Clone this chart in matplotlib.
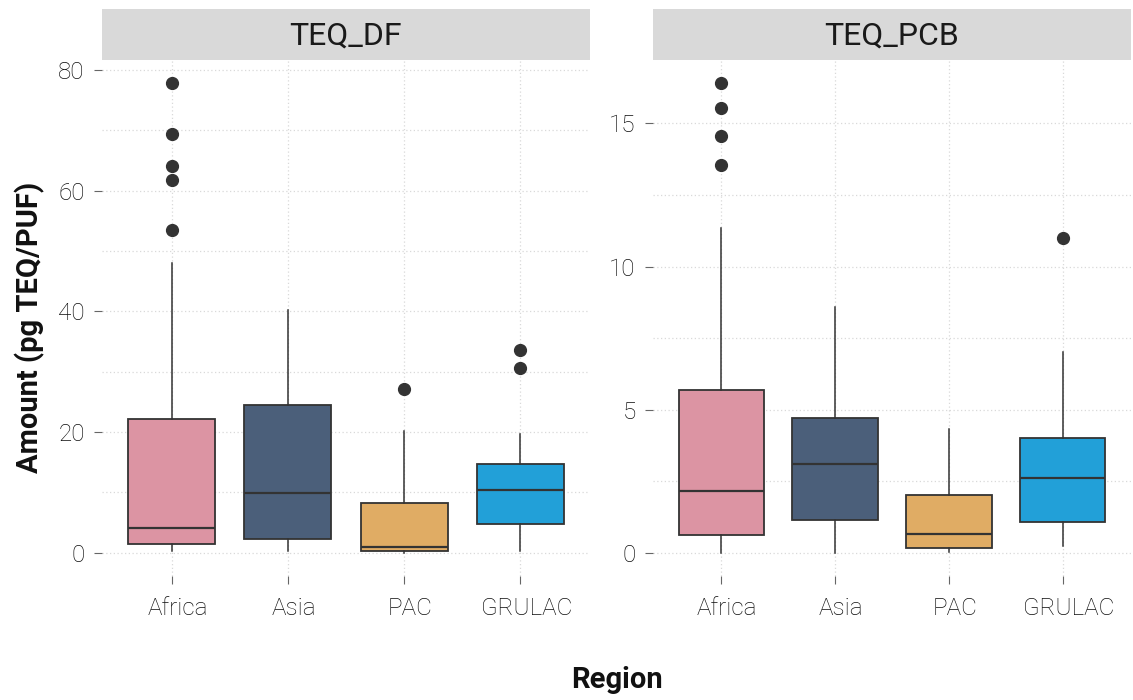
import matplotlib.pyplot as plt
import matplotlib.transforms as mtransforms
from matplotlib.ticker import MultipleLocator

plt.rcParams.update({
    "font.family": ["Roboto", "DejaVu Sans"],
    "font.size": 15,
})

regions = ["Africa", "Asia", "PAC", "GRULAC"]
colors = ["#DC94A3", "#4B5F7A", "#E0AC64", "#22A0D8"]

# TEQ_DF box stats (pg TEQ/PUF)
df_whislo = [0.3, 0.3, 0.0, 0.3]
df_q1 = [1.5, 2.3, 0.3, 4.8]
df_med = [4.1, 9.9, 1.0, 10.4]
df_q3 = [22.2, 24.5, 8.3, 14.7]
df_whishi = [48.0, 40.2, 20.2, 19.7]
df_fliers = [[77.8, 69.4, 64.1, 61.8, 53.5], [], [27.2], [33.6, 30.6]]

# TEQ_PCB box stats
pcb_whislo = [0.0, 0.0, 0.03, 0.24]
pcb_q1 = [0.63, 1.15, 0.17, 1.08]
pcb_med = [2.16, 3.11, 0.66, 2.62]
pcb_q3 = [5.69, 4.71, 2.02, 4.01]
pcb_whishi = [11.34, 8.59, 4.33, 7.02]
pcb_fliers = [[16.4, 15.53, 14.55, 13.54], [], [], [11.0]]

W, H = 1133, 700
fig = plt.figure(figsize=(W / 100, H / 100), dpi=100)

panels = [
    ("TEQ_DF", (df_whislo, df_q1, df_med, df_q3, df_whishi, df_fliers), 102, 590, 20, 10),
    ("TEQ_PCB", (pcb_whislo, pcb_q1, pcb_med, pcb_q3, pcb_whishi, pcb_fliers), 653, 1131, 5, 2.5),
]

for title, (lo, q1, med, q3, hi, fl), x0, x1, major, minor in panels:
    ax = fig.add_axes([x0 / W, (H - 576) / H, (x1 - x0) / W, 516 / H])
    stats = []
    for i, name in enumerate(regions):
        stats.append(dict(label=name, whislo=lo[i], q1=q1[i], med=med[i],
                          q3=q3[i], whishi=hi[i], fliers=fl[i]))
    pos = list(range(1, len(regions) + 1))
    bp = ax.bxp(stats, positions=pos, widths=0.75, patch_artist=True,
                showcaps=False,
                boxprops=dict(edgecolor="#333333", linewidth=1.3),
                medianprops=dict(color="#333333", linewidth=1.6),
                whiskerprops=dict(color="#333333", linewidth=1.1),
                flierprops=dict(marker="o", markerfacecolor="#333333",
                                markeredgecolor="#333333", markersize=8.5))
    for patch, c in zip(bp["boxes"], colors):
        patch.set_facecolor(c)

    allv = lo + hi + [v for f in fl for v in f]
    vmin, vmax = min(allv), max(allv)
    pad = 0.05 * (vmax - vmin)
    ax.set_ylim(vmin - pad, vmax + pad)
    ax.set_xlim(0.4, len(regions) + 0.6)

    ax.yaxis.set_major_locator(MultipleLocator(major))
    ax.yaxis.set_minor_locator(MultipleLocator(minor))
    ax.grid(True, which="both", axis="y", color="#D9D9D9", linestyle=(0, (1, 2)), lw=0.9)
    ax.grid(True, which="major", axis="x", color="#D9D9D9", linestyle=(0, (1, 2)), lw=0.9)
    ax.set_axisbelow(True)
    for s in ax.spines.values():
        s.set_visible(False)
    ax.tick_params(axis="y", which="minor", length=0)
    ax.tick_params(axis="both", which="major", length=5.5, width=0.8,
                   color="#666666", labelcolor="#0D0D0D", labelsize=17.5)
    ax.tick_params(axis="x", pad=9.5)
    ax.tick_params(axis="y", pad=7)
    for lab in ax.get_xticklabels() + ax.get_yticklabels():
        lab.set_fontweight("light")
    offset = mtransforms.ScaledTranslation(6 / 100, 0, fig.dpi_scale_trans)
    for lab in ax.get_xticklabels():
        lab.set_transform(lab.get_transform() + offset)

    strip = fig.add_axes([x0 / W, (H - 60) / H, (x1 - x0) / W, 51 / H])
    strip.set_facecolor("#D9D9D9")
    strip.set_xticks([]); strip.set_yticks([])
    for s in strip.spines.values():
        s.set_visible(False)
    strip.text(0.5, 0.47, title, ha="center", va="center", fontsize=23,
               color="#1A1A1A", transform=strip.transAxes)

fig.text(30 / W, 1 - 327 / H, "Amount (pg TEQ/PUF)", rotation=90, ha="center",
         va="center", fontsize=21, fontweight="bold", color="#111111")
fig.text(617 / W, 1 - 680 / H, "Region", ha="center", va="center",
         fontsize=21, fontweight="bold", color="#111111")

fig.savefig("out.png", dpi=100, facecolor="white")
